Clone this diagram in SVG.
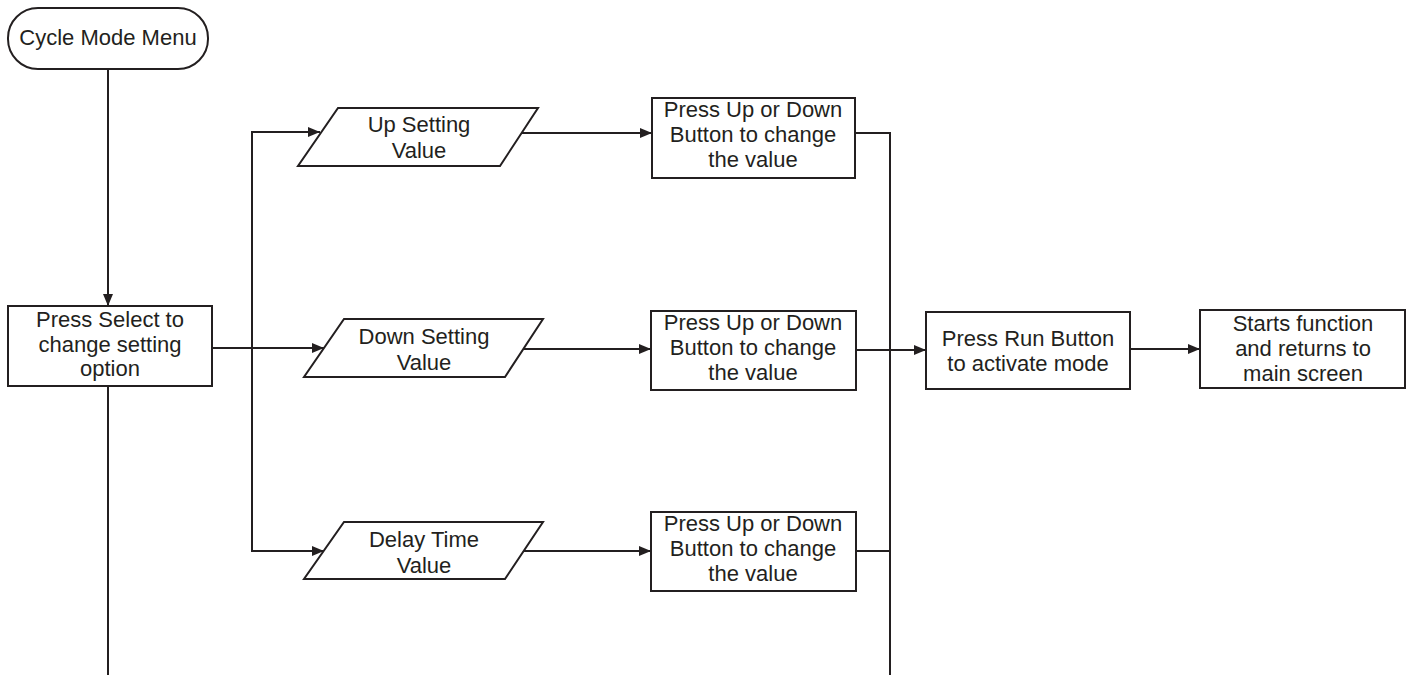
<svg xmlns="http://www.w3.org/2000/svg" width="1411" height="675" viewBox="0 0 1411 675">
<style>
.shape{fill:#fff;stroke:#231f20;stroke-width:2}
.conn{fill:none;stroke:#231f20;stroke-width:2}
text{font-family:"Liberation Sans",Arial,sans-serif;font-size:22px;fill:#231f20;text-anchor:middle}
</style>
<defs>
<marker id="arr" markerUnits="userSpaceOnUse" markerWidth="14" markerHeight="12" refX="12" refY="6" orient="auto">
<path d="M0,1 L12,6 L0,11 z" fill="#231f20"/>
</marker>
</defs>
<g id="connectors">
<path class="conn" d="M108,69 V306" marker-end="url(#arr)"/>
<path class="conn" d="M108,386 V675"/>
<path class="conn" d="M212,348 H324" marker-end="url(#arr)"/>
<path class="conn" d="M252,348 V132 H320" marker-end="url(#arr)"/>
<path class="conn" d="M252,348 V551 H324" marker-end="url(#arr)"/>
<path class="conn" d="M521,133 H652" marker-end="url(#arr)"/>
<path class="conn" d="M524,349 H651" marker-end="url(#arr)"/>
<path class="conn" d="M524,551 H651" marker-end="url(#arr)"/>
<path class="conn" d="M855,133 H890 V675"/>
<path class="conn" d="M856,551 H890"/>
<path class="conn" d="M856,350 H926" marker-end="url(#arr)"/>
<path class="conn" d="M1130,349 H1200" marker-end="url(#arr)"/>
</g>
<g id="cycle-mode-menu">
<rect class="shape" x="8" y="8" width="200" height="61" rx="30" ry="30"/>
<text x="108" y="45">Cycle Mode Menu</text>
</g>
<g id="press-select">
<rect class="shape" x="8" y="306" width="204" height="80"/>
<text x="110" y="327">Press Select to</text>
<text x="110" y="352">change setting</text>
<text x="110" y="376">option</text>
</g>
<g id="up-setting">
<polygon class="shape" points="338,108 538,108 500,166 298,166"/>
<text x="419" y="132">Up Setting</text>
<text x="419" y="158">Value</text>
</g>
<g id="down-setting">
<polygon class="shape" points="344,319 543,319 505,377 304,377"/>
<text x="424" y="344">Down Setting</text>
<text x="424" y="370">Value</text>
</g>
<g id="delay-time">
<polygon class="shape" points="344,522 543,522 505,579 304,579"/>
<text x="424" y="547">Delay Time</text>
<text x="424" y="573">Value</text>
</g>
<g id="press-updown-1">
<rect class="shape" x="652" y="98" width="203" height="80"/>
<text x="753" y="117">Press Up or Down</text>
<text x="753" y="142">Button to change</text>
<text x="753" y="167">the value</text>
</g>
<g id="press-updown-2">
<rect class="shape" x="651" y="311" width="205" height="79"/>
<text x="753" y="330">Press Up or Down</text>
<text x="753" y="355">Button to change</text>
<text x="753" y="380">the value</text>
</g>
<g id="press-updown-3">
<rect class="shape" x="651" y="512" width="205" height="79"/>
<text x="753" y="531">Press Up or Down</text>
<text x="753" y="556">Button to change</text>
<text x="753" y="581">the value</text>
</g>
<g id="press-run">
<rect class="shape" x="926" y="312" width="204" height="77"/>
<text x="1028" y="346">Press Run Button</text>
<text x="1028" y="371">to activate mode</text>
</g>
<g id="starts-function">
<rect class="shape" x="1200" y="310" width="205" height="78"/>
<text x="1303" y="331">Starts function</text>
<text x="1303" y="356">and returns to</text>
<text x="1303" y="381">main screen</text>
</g>
</svg>
